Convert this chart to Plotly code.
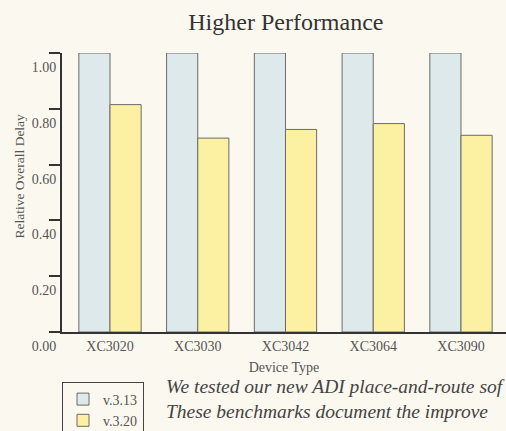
import plotly.graph_objects as go

devices = ["XC3020", "XC3030", "XC3042", "XC3064", "XC3090"]
v313 = [1.00, 1.00, 1.00, 1.00, 1.00]
v320 = [0.815, 0.695, 0.726, 0.747, 0.705]
series_names = ["v.3.13", "v.3.20"]
y_ticks = [0.0, 0.2, 0.4, 0.6, 0.8, 1.0]
y_tick_labels = ["0.00", "0.20", "0.40", "0.60", "0.80", "1.00"]
caption_lines = ["We tested our new ADI place-and-route sof",
                 "These benchmarks document the improve"]

BG = "#fbf8f0"
SERIF = "Liberation Serif, Times New Roman, serif"
TXT = "#555555"

fig = go.Figure()
fig.add_trace(go.Bar(x=devices, y=v313, name=series_names[0],
                     marker=dict(color="#dee9ec", line=dict(color="#6b6b6b", width=1))))
fig.add_trace(go.Bar(x=devices, y=v320, name=series_names[1],
                     marker=dict(color="#fcf0a2", line=dict(color="#6b6b6b", width=1))))

fig.update_layout(
    width=506, height=431,
    margin=dict(l=62, r=0, t=53, b=99, autoexpand=False),
    paper_bgcolor=BG, plot_bgcolor=BG,
    barmode="group", bargap=0.29, bargroupgap=0,
    font=dict(family=SERIF, size=14, color=TXT),
    title=dict(text="Higher Performance", x=0.565, xanchor="center", y=0.949, yanchor="middle",
               font=dict(family=SERIF, size=24, color="#333333")),
    legend=dict(x=0, xanchor="left", y=-0.181, yanchor="top",
                bgcolor=BG, bordercolor="#444444", borderwidth=1,
                font=dict(family=SERIF, size=14, color=TXT), tracegroupgap=2),
    showlegend=True,
)
fig.update_xaxes(
    range=[-0.547, 4.513], showgrid=False, zeroline=False,
    showline=True, linecolor="#333333", linewidth=2, ticks="",
    tickfont=dict(family=SERIF, size=14, color=TXT),
    title=dict(text="Device Type", font=dict(family=SERIF, size=14, color=TXT), standoff=9),
)
fig.update_yaxes(
    range=[0, 1.0], showgrid=False, zeroline=False,
    showline=True, linecolor="#333333", linewidth=2,
    ticks="outside", ticklen=11, tickwidth=2, tickcolor="#333333",
    tickvals=y_ticks, ticktext=y_tick_labels,
    tickfont=dict(family=SERIF, size=14, color=TXT),
    ticklabelshift=14, ticklabelstandoff=-10,
)
fig.add_annotation(text="Relative Overall Delay", textangle=-90, xref="paper", yref="paper",
                   x=-0.095, y=0.56, xanchor="center", yanchor="middle", showarrow=False,
                   font=dict(family=SERIF, size=13.5, color=TXT))
fig.add_annotation(text="<br>".join("<i>%s</i>" % s for s in caption_lines),
                   xref="paper", yref="paper", x=0.229, y=-0.151, xanchor="left", yanchor="top",
                   align="left", showarrow=False,
                   font=dict(family=SERIF, size=19.5, color="#444444"))
fig.write_html("out.html", config={"displayModeBar": False},
               post_script="document.body.style.margin='0';document.body.style.overflow='hidden';")
